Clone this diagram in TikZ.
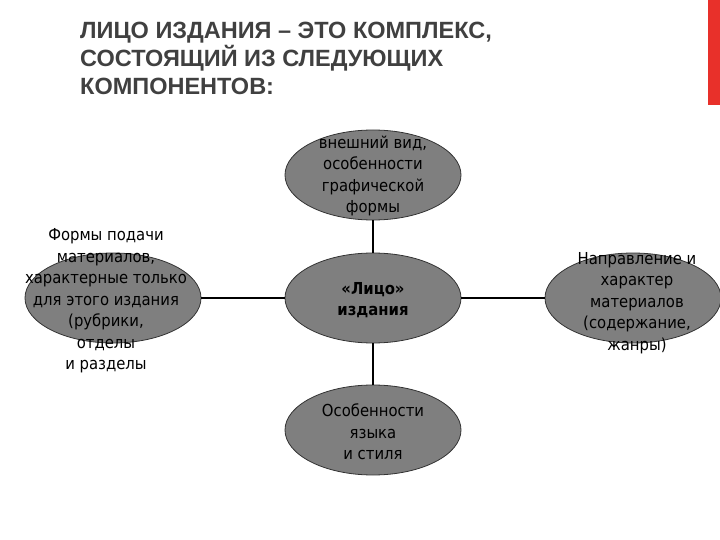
\documentclass[tikz,border=0pt]{standalone}
\usepackage{fontspec}
\setmainfont{DejaVu Sans Condensed}
\newfontfamily\titlefont{Liberation Sans}
\usetikzlibrary{shapes.geometric}
\definecolor{ttl}{HTML}{404040}
\definecolor{ell}{HTML}{7F7F7F}
\definecolor{redbar}{HTML}{E8302A}
\tikzset{
 oval/.style={ellipse,draw=black!80,line width=0.8pt,fill=ell,minimum width=176pt,minimum height=90pt,inner sep=0pt},
 lbl/.style={align=center,font=\fontsize{16.5}{21.5}\selectfont,text=black},
 link/.style={line width=1.6pt,draw=black}
}
\begin{document}
\begin{tikzpicture}[x=1pt,y=-1pt]
\useasboundingbox (0,0) rectangle (720,540);
\fill[white] (0,0) rectangle (720,540);
\fill[redbar] (708,0) rectangle (720,105);
\node[anchor=north west,align=left,text=ttl,inner sep=0pt,font=\titlefont\bfseries\fontsize{23.5}{28}\selectfont] (title) at (80,22) {ЛИЦО ИЗДАНИЯ – ЭТО КОМПЛЕКС,\\СОСТОЯЩИЙ ИЗ СЛЕДУЮЩИХ\\КОМПОНЕНТОВ:};
\node[oval] (top) at (373,175) {};
\node[oval] (ctr) at (373,298) {};
\node[oval] (bot) at (373,430) {};
\node[oval] (lft) at (113,298) {};
\node[oval] (rgt) at (633,298) {};
\draw[link] (top) -- (ctr);
\draw[link] (ctr) -- (bot);
\draw[link] (lft) -- (ctr);
\draw[link] (ctr) -- (rgt);
\node[lbl] (ttop) at (373,176) {внешний вид,\\особенности\\графической\\формы};
\node[lbl,font=\bfseries\fontsize{16.5}{21.5}\selectfont] (tctr) at (373,300) {«Лицо»\\издания};
\node[lbl] (tbot) at (373,432) {Особенности\\языка\\и стиля};
\node[lbl] (tlft) at (106,301) {Формы подачи\\материалов,\\характерные только\\для этого издания\\(рубрики,\\отделы\\и разделы};
\node[lbl] (trgt) at (637,303) {Направление и\\характер\\материалов\\(содержание,\\жанры)};
\end{tikzpicture}
\end{document}
